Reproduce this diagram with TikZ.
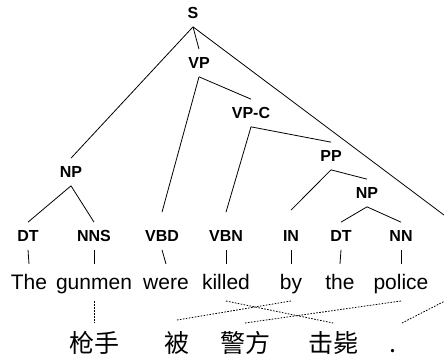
\documentclass[tikz,border=0pt]{standalone}
\usepackage{fontspec}
\setmainfont{Liberation Sans}
\newfontfamily\cjk{Noto Sans CJK SC}
\begin{document}
\begin{tikzpicture}[x=1pt,y=1pt,
  lab/.style={font=\fontsize{16}{16}\selectfont\bfseries, inner sep=0pt, outer xsep=0pt, outer ysep=8pt, text height=11.7pt, text depth=0pt},
  wrd/.style={font=\fontsize{21}{21}\selectfont, inner sep=0pt, outer xsep=0pt, outer ysep=11pt, text height=15pt, text depth=0pt, anchor=base},
  zh/.style={font=\cjk\fontsize{25}{25}\selectfont, inner sep=0pt, outer xsep=0pt, outer ysep=9pt, text height=21pt, text depth=0pt, anchor=base},
  edge/.style={line width=0.8pt},
  aln/.style={line width=0.8pt, dash pattern=on 1.6pt off 1.4pt}]
\useasboundingbox (0,0) rectangle (444,361);
\clip (0,0) rectangle (444,361);
% phrase labels
\node[lab] (S) at (193,348) {S};
\node[lab] (VP) at (199,298) {VP};
\node[lab] (VPC) at (251,248) {VP-C};
\node[lab] (PP) at (331,205) {PP};
\node[lab] (NPa) at (71,189) {NP};
\node[lab] (NPb) at (367,168) {NP};
% preterminals
\node[lab] (DTa) at (28,125) {DT};
\node[lab] (NNS) at (94,125) {NNS};
\node[lab] (VBD) at (162,125) {VBD};
\node[lab] (VBN) at (226,125) {VBN};
\node[lab] (IN) at (291,125) {IN};
\node[lab] (DTb) at (341,125) {DT};
\node[lab] (NN) at (401,125) {NN};
\coordinate (PUpre) at (472,125);
% words
\node[wrd] (w1) at (29,71) {The};
\node[wrd] (w2) at (94,71) {gunmen};
\node[wrd] (w3) at (166,71) {were};
\node[wrd] (w4) at (226,71) {killed};
\node[wrd] (w5) at (291,71) {by};
\node[wrd] (w6) at (340,71) {the};
\node[wrd] (w7) at (401,71) {police};
\coordinate (w8) at (480,78);
% chinese
\node[zh] (c1) at (94,8) {枪手};
\node[zh] (c2) at (177,8) {被};
\node[zh] (c3) at (245,8) {警方};
\node[zh] (c4) at (333,8) {击毙};
\node[zh] (c5) at (393,8) {.};
% tree edges
\draw[edge] (S.south) -- (NPa.north);
\draw[edge] (S.south) -- (VP.north);
\draw[edge] (S.south) -- (PUpre);
\draw[edge] (NPa.south) -- (DTa.north);
\draw[edge] (NPa.south) -- (NNS.north);
\draw[edge] (VP.south) -- ([yshift=10pt]VBD.north);
\draw[edge] (VP.south) -- (VPC.north);
\draw[edge] (VPC.south) -- ([yshift=10pt]VBN.north);
\draw[edge] (VPC.south) -- (PP.north);
\draw[edge] (PP.south) -- ([yshift=12pt]IN.north);
\draw[edge] (PP.south) -- (NPb.north);
\draw[edge] (NPb.south) -- (DTb.north);
\draw[edge] (NPb.south) -- (NN.north);
% pipes
\foreach \p/\w in {DTa/w1,NNS/w2,VBD/w3,VBN/w4,IN/w5,DTb/w6,NN/w7}
  \draw[edge] (\p.south) -- (\w.north);
% alignments
\draw[aln] (w2.south) -- (c1.north);
\draw[aln] (w5.south) -- ([yshift=3pt]c2.north);
\draw[aln] (w4.south) -- (c4.north);
\draw[aln] (w7.south) -- (c3.north);
\draw[aln] ([xshift=9pt]c5.north) -- (w8);
\end{tikzpicture}
\end{document}
